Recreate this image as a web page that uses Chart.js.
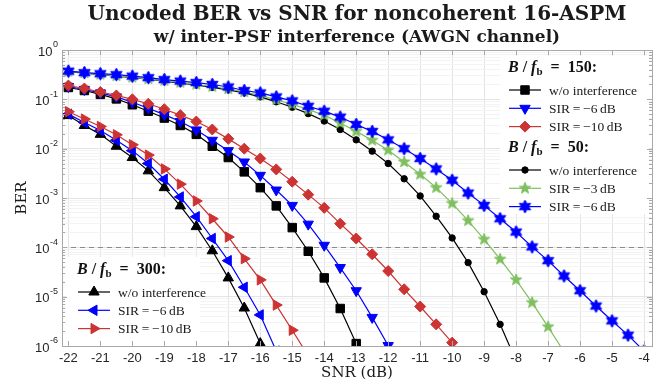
<!DOCTYPE html>
<html>
<head>
<meta charset="utf-8">
<script src="https://cdn.jsdelivr.net/npm/chart.js@4/dist/chart.umd.min.js"></script>
<style>
  html, body { margin: 0; padding: 0; background: #fff; }
  #wrap { width: 660px; height: 381px; }
</style>
</head>
<body>
<div id="wrap"><canvas id="ber-chart" width="660" height="381"></canvas></div>
<script>
/* global Chart */

// SNR grid (dB), markers every 0.5 dB
const snrGrid = [-22, -21.5, -21, -20.5, -20, -19.5, -19, -18.5, -18, -17.5, -17, -16.5, -16, -15.5, -15, -14.5,
  -14, -13.5, -13, -12.5, -12, -11.5, -11, -10.5, -10, -9.5, -9, -8.5, -8, -7.5, -7, -6.5, -6, -5.5, -5, -4.5, -4];
const xTicks = [-22, -21, -20, -19, -18, -17, -16, -15, -14, -13, -12, -11, -10, -9, -8, -7, -6, -5, -4];
const yDecades = [1e-6, 1e-5, 1e-4, 1e-3, 1e-2, 1e-1, 1];
const yDecadeExp = ["-6", "-5", "-4", "-3", "-2", "-1", "0"];
const refBer = 1e-4;

// B/fb = 150
const ber150NoInt = [0.174, 0.151, 0.126, 0.102, 0.0776, 0.0575, 0.0417, 0.0295, 0.0195, 0.0112, 0.00661, 0.00339,
  0.00162, 6.92e-4, 2.51e-4, 8.32e-5, 2.40e-5, 5.75e-6, 1.12e-6];
const ber150Sir6 = [0.182, 0.158, 0.135, 0.112, 0.0871, 0.0661, 0.0490, 0.0355, 0.0240, 0.0148, 0.00912, 0.00537,
  0.00288, 0.00145, 7.08e-4, 2.95e-4, 1.10e-4, 3.89e-5, 1.32e-5, 3.80e-6, 1.02e-6];
const ber150Sir10 = [0.191, 0.166, 0.141, 0.120, 0.100, 0.0813, 0.0631, 0.0479, 0.0355, 0.0245, 0.0158, 0.0100,
  0.00631, 0.00380, 0.00214, 0.00117, 6.31e-4, 3.02e-4, 1.51e-4, 7.24e-5, 3.31e-5, 1.41e-5, 6.31e-6, 2.75e-6, 1.17e-6];

// B/fb = 50
const ber50NoInt = [0.363, 0.339, 0.316, 0.295, 0.275, 0.257, 0.234, 0.214, 0.195, 0.174, 0.155, 0.135, 0.112,
  0.0891, 0.0692, 0.0513, 0.0363, 0.0245, 0.0151, 0.00891, 0.00501, 0.00245, 0.00110, 4.27e-4, 1.55e-4, 4.90e-5,
  1.26e-5, 2.75e-6, 5.0e-7];
const ber50Sir3 = [0.368, 0.343, 0.320, 0.299, 0.279, 0.260, 0.240, 0.220, 0.200, 0.182, 0.162, 0.141, 0.120,
  0.0977, 0.0794, 0.0617, 0.0479, 0.0331, 0.0224, 0.0148, 0.00933, 0.00537, 0.00302, 0.00162, 7.76e-4, 3.47e-4,
  1.45e-4, 5.75e-5, 2.19e-5, 7.59e-6, 2.45e-6, 7.6e-7];
const ber50Sir6 = [0.372, 0.347, 0.331, 0.316, 0.295, 0.275, 0.251, 0.234, 0.219, 0.200, 0.178, 0.151, 0.135,
  0.112, 0.0933, 0.0724, 0.0575, 0.0437, 0.0309, 0.0224, 0.0151, 0.0100, 0.00631, 0.00389, 0.00229, 0.00126,
  7.08e-4, 3.80e-4, 2.04e-4, 1.02e-4, 5.37e-5, 2.63e-5, 1.32e-5, 6.46e-6, 3.24e-6, 1.66e-6, 7.9e-7];

// B/fb = 300
const ber300NoInt = [0.0468, 0.0295, 0.0195, 0.0112, 0.00661, 0.00355, 0.00162, 6.92e-4, 2.63e-4, 8.51e-5,
  2.40e-5, 5.89e-6, 1.12e-6];
const ber300Sir6 = [0.0501, 0.0339, 0.0234, 0.0148, 0.00912, 0.00501, 0.00240, 0.00105, 4.17e-4, 1.51e-4,
  5.37e-5, 1.55e-5, 4.27e-6, 7.9e-7];
const ber300Sir10 = [0.0562, 0.0398, 0.0282, 0.0191, 0.0120, 0.00741, 0.00389, 0.00191, 8.71e-4, 3.80e-4,
  1.62e-4, 5.89e-5, 2.19e-5, 6.76e-6, 2.09e-6, 6.3e-7];

const BLACK = "#000000";
const BLUE = "#0000ff";
const RED = "#cc3333";
const GREEN = "#7fbf5f";
const SERIF = '"DejaVu Serif", serif';
const LEG_SERIF = '"Liberation Serif", "DejaVu Serif", serif';
const SANS = '"Liberation Sans", Arial, sans-serif';

function starCanvas(points, outer, inner, color) {
  const size = Math.ceil(outer * 2 + 2);
  const cv = document.createElement("canvas");
  cv.width = size;
  cv.height = size;
  const c = cv.getContext("2d");
  const cx = size / 2, cy = size / 2;
  c.beginPath();
  for (let i = 0; i < points * 2; i++) {
    const r = i % 2 === 0 ? outer : inner;
    const a = -Math.PI / 2 + (i * Math.PI) / points;
    const px = cx + r * Math.cos(a), py = cy + r * Math.sin(a);
    if (i === 0) c.moveTo(px, py);
    else c.lineTo(px, py);
  }
  c.closePath();
  c.fillStyle = color;
  c.strokeStyle = color;
  c.lineWidth = 1;
  c.fill();
  c.stroke();
  return cv;
}

const pentagram = starCanvas(5, 6, 2.5, GREEN);
const hexagram = starCanvas(6, 6.5, 3.6, BLUE);

const series = [
  { data: ber150NoInt, color: BLACK, style: "rect", rot: 0, r: 6 },
  { data: ber150Sir6, color: BLUE, style: "triangle", rot: 180, r: 6 },
  { data: ber150Sir10, color: RED, style: "rectRot", rot: 0, r: 5.5 },
  { data: ber50NoInt, color: BLACK, style: "circle", rot: 0, r: 3.2 },
  { data: ber50Sir3, color: GREEN, style: pentagram, rot: 0, r: 6 },
  { data: ber50Sir6, color: BLUE, style: hexagram, rot: 0, r: 6 },
  { data: ber300NoInt, color: BLACK, style: "triangle", rot: 0, r: 6 },
  { data: ber300Sir6, color: BLUE, style: "triangle", rot: 270, r: 6 },
  { data: ber300Sir10, color: RED, style: "triangle", rot: 90, r: 6 },
];

const legendBlocks = [
  { x: 508, y: 68, value: "150", items: [
    { s: 0, text: "w/o interference" }, { s: 1, text: "SIR\u2009=\u2009\u22126\u2009dB" }, { s: 2, text: "SIR\u2009=\u2009\u221210\u2009dB" }] },
  { x: 508, y: 148, value: "50", items: [
    { s: 3, text: "w/o interference" }, { s: 4, text: "SIR\u2009=\u2009\u22123\u2009dB" }, { s: 5, text: "SIR\u2009=\u2009\u22126\u2009dB" }] },
  { x: 77, y: 270, value: "300", items: [
    { s: 6, text: "w/o interference" }, { s: 7, text: "SIR\u2009=\u2009\u22126\u2009dB" }, { s: 8, text: "SIR\u2009=\u2009\u221210\u2009dB" }] },
];

function drawMarker(ctx, s, x, y) {
  ctx.save();
  ctx.fillStyle = s.color;
  ctx.strokeStyle = s.color;
  ctx.lineWidth = 1;
  Chart.helpers.drawPoint(ctx, { pointStyle: s.style, rotation: s.rot, radius: s.r, borderWidth: 1 }, x, y);
  ctx.restore();
}

function drawHeader(ctx, x, y, value) {
  ctx.save();
  ctx.fillStyle = "#111";
  ctx.textBaseline = "middle";
  ctx.textAlign = "left";
  let cx = x;
  const part = (txt, font, dy) => {
    ctx.font = font;
    ctx.fillText(txt, cx, y + (dy || 0));
    cx += ctx.measureText(txt).width;
  };
  part("B", `italic bold 16px ${LEG_SERIF}`);
  part(" / ", `bold 16px ${LEG_SERIF}`);
  part("f", `italic bold 16px ${LEG_SERIF}`);
  part("b", `bold 11px ${LEG_SERIF}`, 4);
  part("  =  ", `bold 16px ${LEG_SERIF}`);
  part(value + ":", `bold 16px ${LEG_SERIF}`);
  ctx.restore();
}

const overlay = {
  id: "overlay",
  beforeDatasetsDraw(chart) {
    const { ctx, chartArea: a, scales } = chart;
    ctx.save();
    ctx.fillStyle = "#ffffff";
    ctx.fillRect(500, 56, 149, 158);
    ctx.fillRect(66, 257, 134, 85);
    const yy = Math.round(scales.y.getPixelForValue(refBer)) + 0.5;
    ctx.strokeStyle = "#8a8a8a";
    ctx.lineWidth = 1;
    ctx.setLineDash([5, 4]);
    ctx.beginPath();
    ctx.moveTo(a.left, yy);
    ctx.lineTo(a.right, yy);
    ctx.stroke();
    ctx.restore();
  },
  afterDraw(chart) {
    const { ctx, chartArea: a, scales } = chart;
    const xs = scales.x, ys = scales.y;
    ctx.save();

    // axes box and inward ticks
    ctx.strokeStyle = "#a8a8a8";
    ctx.lineWidth = 1;
    ctx.strokeRect(Math.round(a.left) + 0.5, Math.round(a.top) + 0.5,
      Math.round(a.right - a.left), Math.round(a.bottom - a.top));
    ctx.beginPath();
    xTicks.forEach((v) => {
      const px = Math.round(xs.getPixelForValue(v)) + 0.5;
      ctx.moveTo(px, a.bottom); ctx.lineTo(px, a.bottom - 5);
      ctx.moveTo(px, a.top); ctx.lineTo(px, a.top + 5);
    });
    ys.ticks.forEach((t) => {
      const major = yDecades.includes(t.value);
      const len = major ? 5 : 3;
      const py = Math.round(ys.getPixelForValue(t.value)) + 0.5;
      ctx.moveTo(a.left, py); ctx.lineTo(a.left + len, py);
      ctx.moveTo(a.right, py); ctx.lineTo(a.right - len, py);
    });
    ctx.stroke();

    // y tick labels 10^k
    ctx.fillStyle = "#262626";
    ctx.textBaseline = "middle";
    yDecades.forEach((v, i) => {
      const py = ys.getPixelForValue(v);
      const exp = yDecadeExp[i];
      ctx.font = `9px ${SANS}`;
      const ew = ctx.measureText(exp).width;
      ctx.textAlign = "right";
      ctx.fillText(exp, a.left - 4, py - 5);
      ctx.font = `13px ${SANS}`;
      ctx.fillText("10", a.left - 4 - ew - 0.5, py + 2);
    });

    // titles
    ctx.fillStyle = "#1a1a1a";
    ctx.textAlign = "center";
    const cx = (a.left + a.right) / 2;
    ctx.font = `bold 20px ${SERIF}`;
    ctx.fillText("Uncoded BER vs SNR for noncoherent 16-ASPM", cx, 15);
    ctx.font = `bold 17px ${SERIF}`;
    ctx.fillText("w/ inter-PSF interference (AWGN channel)", cx, 38);
    ctx.font = `15px ${SERIF}`;
    ctx.fillText("SNR (dB)", cx, 373);
    ctx.save();
    ctx.translate(22, (a.top + a.bottom) / 2);
    ctx.rotate(-Math.PI / 2);
    ctx.fillText("BER", 0, 0);
    ctx.restore();

    // legends
    legendBlocks.forEach((b) => {
      drawHeader(ctx, b.x, b.y, b.value);
      b.items.forEach((it, k) => {
        const s = series[it.s];
        const y = b.y + 22 + k * 18.3;
        const lx = b.x + 1;
        ctx.strokeStyle = s.color;
        ctx.lineWidth = 1.2;
        ctx.beginPath();
        ctx.moveTo(lx, y);
        ctx.lineTo(lx + 32, y);
        ctx.stroke();
        drawMarker(ctx, s, lx + 16, y);
        ctx.fillStyle = "#1a1a1a";
        ctx.textAlign = "left";
        ctx.textBaseline = "middle";
        ctx.font = `13.5px ${LEG_SERIF}`;
        ctx.fillText(it.text, lx + 40, y + 1);
      });
    });
    ctx.restore();
  },
};

const datasets = series.map((s, i) => ({
  data: s.data.map((v, k) => ({ x: snrGrid[k], y: v })),
  borderColor: s.color,
  backgroundColor: s.color,
  borderWidth: 1.2,
  pointStyle: s.style,
  pointRotation: s.rot,
  pointRadius: s.r,
  pointHoverRadius: s.r,
  pointBorderWidth: 1,
  pointBackgroundColor: s.color,
  pointBorderColor: s.color,
  tension: 0,
  fill: false,
  order: series.length - i,
}));

new Chart(document.getElementById("ber-chart"), {
  type: "line",
  data: { datasets },
  plugins: [overlay],
  options: {
    responsive: false,
    animation: false,
    events: [],
    layout: { padding: { left: 0, right: 8, top: 50, bottom: 0 } },
    plugins: { legend: { display: false }, tooltip: { enabled: false }, title: { display: false } },
    scales: {
      x: {
        type: "linear",
        min: -22.2,
        max: -3.75,
        afterBuildTicks(scale) { scale.ticks = xTicks.map((v) => ({ value: v })); },
        afterFit(scale) { scale.height = 35; },
        ticks: { includeBounds: false, color: "#262626", font: { family: SANS, size: 13 }, padding: 5, maxRotation: 0, autoSkip: false },
        grid: { color: "#e4e4e4", lineWidth: 1, drawTicks: false },
        border: { display: false },
      },
      y: {
        type: "logarithmic",
        min: 1e-6,
        max: 1,
        afterBuildTicks(scale) {
          const t = [];
          yDecades.forEach((d) => {
            for (let m = 1; m <= 9; m++) {
              const v = d * m;
              if (v <= 1.0000001) t.push({ value: v });
            }
          });
          scale.ticks = t;
        },
        afterFit(scale) { scale.width = 62; },
        ticks: { display: false },
        grid: {
          drawTicks: false,
          lineWidth: 1,
          color: (ctx) => (ctx.tick && yDecades.includes(ctx.tick.value) ? "#e4e4e4" : "#f3f3f3"),
        },
        border: { display: false },
      },
    },
  },
});
</script>
</body>
</html>
